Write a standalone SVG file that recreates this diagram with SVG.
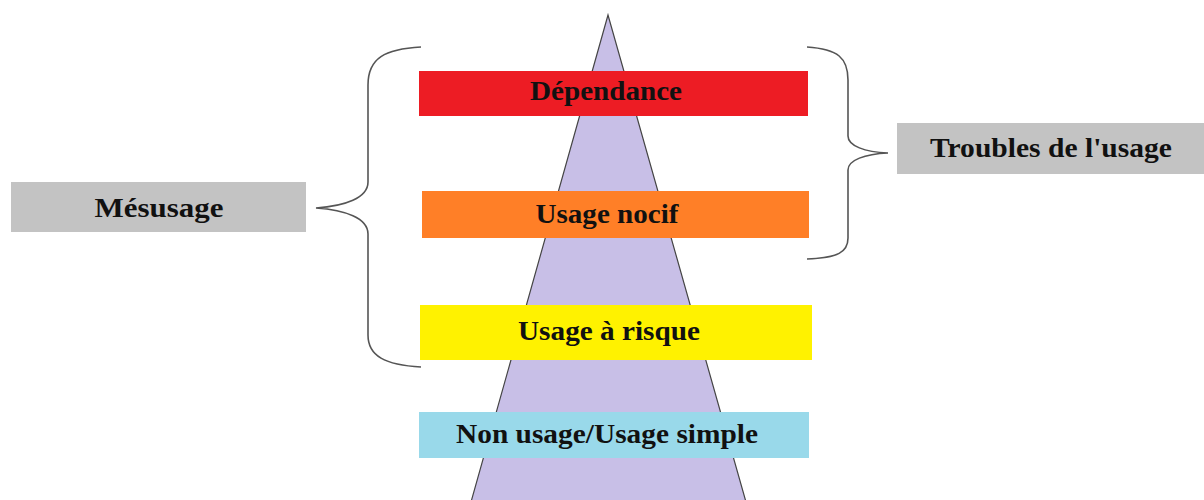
<svg xmlns="http://www.w3.org/2000/svg" width="1204" height="500" viewBox="0 0 1204 500">
<style>
.lbl{font-family:"Liberation Serif","Times New Roman",serif;font-weight:bold;font-size:27px;fill:#111;text-anchor:middle}
.brace{fill:none;stroke:#555;stroke-width:1.6}
</style>
<rect width="1204" height="500" fill="#fff"/>
<g id="pyramid">
<polygon points="608,15 471,502 746,502" fill="#C8BFE7" stroke="#444" stroke-width="1.2"/>
</g>
<g id="connectors">
<path class="brace" d="M421,47 C385,49 368,58 368,85 L368,182 C368,198 345,206 316,208 C345,210 368,218 368,234 L368,335 C368,356 385,365 421,367"/>
<path class="brace" d="M807,47 C838,49 848,58 848,80 L848,136 C848,146 865,152 888,153 C865,154 848,160 848,170 L848,238 C848,252 838,258 807,259"/>
</g>
<g id="dependance">
<rect x="419" y="71" width="389" height="45" fill="#ED1C24"/>
<text class="lbl" x="606" y="100" textLength="152" lengthAdjust="spacingAndGlyphs">Dépendance</text>
</g>
<g id="usage-nocif">
<rect x="422" y="191" width="387" height="47" fill="#FF7F27"/>
<text class="lbl" x="607" y="223" textLength="143" lengthAdjust="spacingAndGlyphs">Usage nocif</text>
</g>
<g id="usage-risque">
<rect x="420" y="305" width="392" height="55" fill="#FFF200"/>
<text class="lbl" x="609" y="340" textLength="182" lengthAdjust="spacingAndGlyphs">Usage à risque</text>
</g>
<g id="non-usage">
<rect x="419" y="412" width="390" height="46" fill="#99D9EA"/>
<text class="lbl" x="607" y="443" textLength="302" lengthAdjust="spacingAndGlyphs">Non usage/Usage simple</text>
</g>
<g id="mesusage">
<rect x="11" y="182" width="295" height="50" fill="#C3C3C3"/>
<text class="lbl" x="159" y="217" textLength="129" lengthAdjust="spacingAndGlyphs">Mésusage</text>
</g>
<g id="troubles">
<rect x="897" y="123" width="307" height="51" fill="#C3C3C3"/>
<text class="lbl" x="1051" y="157" textLength="242" lengthAdjust="spacingAndGlyphs">Troubles de l'usage</text>
</g>
</svg>
